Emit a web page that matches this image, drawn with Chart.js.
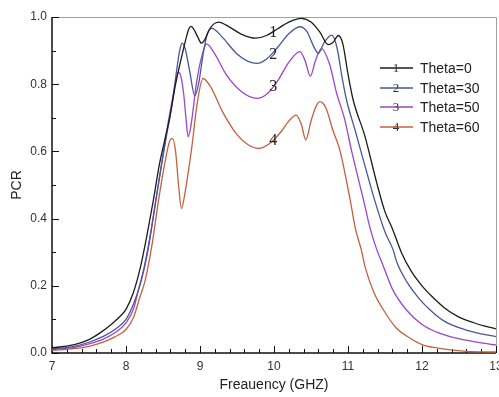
<!DOCTYPE html>
<html>
<head>
<meta charset="utf-8">
<script src="https://cdn.jsdelivr.net/npm/chart.js@4.4.1/dist/chart.umd.min.js"></script>
<style>
html, body { margin: 0; padding: 0; background: #fff; overflow: hidden; }
#wrap { width: 499px; height: 397px; position: relative; }
</style>
</head>
<body>
<div id="wrap"><canvas id="chart"></canvas></div>
<script>
// series names and their curve numbers
const seriesNames = ['Theta=0', 'Theta=30', 'Theta=50', 'Theta=60'];
const seriesMarks = ['1', '2', '3', '4'];

// Theta=0
const freq0 = [7.0, 7.3, 7.5, 7.65, 7.8, 7.9, 8.0, 8.1, 8.2, 8.3, 8.37, 8.45, 8.52, 8.59, 8.67, 8.75, 8.81, 8.85, 8.88, 8.92, 8.97, 9.02, 9.07, 9.12, 9.18, 9.25, 9.4, 9.55, 9.75, 9.9, 10.05, 10.2, 10.37, 10.5, 10.62, 10.73, 10.8, 10.87, 10.93, 11.0, 11.07, 11.23, 11.39, 11.5, 11.6, 11.72, 11.85, 12.0, 12.15, 12.3, 12.5, 12.7, 12.85, 13.0];
const pcr0 = [0.015, 0.025, 0.04, 0.06, 0.085, 0.105, 0.13, 0.18, 0.26, 0.37, 0.455, 0.56, 0.63, 0.70, 0.80, 0.88, 0.935, 0.965, 0.972, 0.962, 0.94, 0.922, 0.935, 0.96, 0.978, 0.985, 0.97, 0.95, 0.937, 0.945, 0.965, 0.985, 0.996, 0.985, 0.955, 0.918, 0.925, 0.945, 0.92, 0.83, 0.753, 0.644, 0.505, 0.42, 0.37, 0.30, 0.245, 0.20, 0.165, 0.135, 0.107, 0.09, 0.08, 0.072];

// Theta=30
const freq30 = [7.0, 7.3, 7.5, 7.7, 7.85, 8.0, 8.1, 8.2, 8.3, 8.4, 8.48, 8.55, 8.63, 8.69, 8.73, 8.76, 8.8, 8.86, 8.93, 8.98, 9.05, 9.1, 9.16, 9.3, 9.5, 9.65, 9.77, 9.9, 10.05, 10.2, 10.35, 10.45, 10.52, 10.6, 10.68, 10.78, 10.85, 10.92, 10.98, 11.1, 11.2, 11.36, 11.5, 11.61, 11.66, 11.8, 11.95, 12.11, 12.3, 12.6, 12.8, 13.0];
const pcr30 = [0.012, 0.02, 0.032, 0.05, 0.07, 0.10, 0.145, 0.21, 0.31, 0.45, 0.56, 0.65, 0.75, 0.85, 0.905, 0.922, 0.905, 0.84, 0.765, 0.80, 0.90, 0.95, 0.966, 0.94, 0.89, 0.868, 0.862, 0.875, 0.91, 0.95, 0.971, 0.955, 0.92, 0.892, 0.925, 0.946, 0.91, 0.82, 0.753, 0.66, 0.58, 0.455, 0.36, 0.307, 0.27, 0.21, 0.165, 0.128, 0.095, 0.068, 0.057, 0.049];

// Theta=50
const freq50 = [7.0, 7.3, 7.5, 7.7, 7.85, 8.0, 8.1, 8.17, 8.25, 8.35, 8.45, 8.55, 8.63, 8.68, 8.71, 8.74, 8.78, 8.81, 8.84, 8.88, 8.95, 9.02, 9.09, 9.2, 9.35, 9.55, 9.77, 9.9, 10.05, 10.2, 10.35, 10.42, 10.49, 10.56, 10.64, 10.75, 10.85, 10.95, 11.05, 11.21, 11.3, 11.39, 11.48, 11.6, 11.79, 12.0, 12.2, 12.38, 12.6, 12.8, 13.0];
const pcr50 = [0.01, 0.017, 0.027, 0.042, 0.06, 0.09, 0.13, 0.19, 0.26, 0.38, 0.52, 0.66, 0.76, 0.82, 0.835, 0.825, 0.77, 0.70, 0.644, 0.68, 0.80, 0.88, 0.92, 0.89, 0.83, 0.78, 0.758, 0.77, 0.81, 0.865, 0.897, 0.87, 0.824, 0.87, 0.906, 0.86, 0.77, 0.70, 0.60, 0.455, 0.37, 0.307, 0.257, 0.19, 0.128, 0.085, 0.062, 0.049, 0.038, 0.03, 0.024];

// Theta=60
const freq60 = [7.0, 7.3, 7.5, 7.7, 7.85, 8.0, 8.1, 8.19, 8.26, 8.35, 8.44, 8.52, 8.57, 8.6, 8.63, 8.67, 8.71, 8.75, 8.8, 8.89, 8.96, 9.04, 9.15, 9.3, 9.5, 9.65, 9.79, 9.95, 10.1, 10.2, 10.3, 10.37, 10.43, 10.5, 10.56, 10.62, 10.7, 10.8, 10.89, 11.03, 11.1, 11.18, 11.23, 11.35, 11.48, 11.65, 11.84, 12.0, 12.2, 12.38, 12.6, 13.0];
const pcr60 = [0.008, 0.013, 0.02, 0.033, 0.048, 0.07, 0.105, 0.168, 0.217, 0.32, 0.455, 0.56, 0.615, 0.635, 0.638, 0.60, 0.50, 0.43, 0.48, 0.614, 0.74, 0.817, 0.79, 0.72, 0.65, 0.62, 0.609, 0.625, 0.66, 0.69, 0.708, 0.68, 0.634, 0.69, 0.73, 0.748, 0.73, 0.66, 0.604, 0.455, 0.37, 0.307, 0.257, 0.18, 0.128, 0.075, 0.044, 0.025, 0.015, 0.009, 0.005, 0.003];

// where the curve numbers sit (frequency, PCR)
const markFreq = [9.99, 9.99, 9.99, 9.99];
const markPcr = [0.952, 0.887, 0.792, 0.631];

const colors = ['#1c1c1c', '#47579a', '#9b45cf', '#c4603f'];
const freqs = [freq0, freq30, freq50, freq60];
const pcrs = [pcr0, pcr30, pcr50, pcr60];

const datasets = seriesNames.map((name, k) => ({
  label: name,
  data: freqs[k].map((f, i) => ({ x: f, y: pcrs[k][i] })),
  borderColor: colors[k],
  borderWidth: 1.3,
  pointRadius: 0,
  fill: false,
  cubicInterpolationMode: 'monotone'
}));

// frame, inward ticks, curve numbers and legend
const decor = {
  id: 'decor',
  beforeDatasetsDraw(chart) {
    const { ctx, chartArea: a, scales: { x, y } } = chart;
    ctx.save();
    ctx.lineWidth = 1;
    ctx.strokeStyle = '#a0a0a0';
    ctx.beginPath();
    ctx.moveTo(a.left, a.top + 0.5);
    ctx.lineTo(a.right + 0.5, a.top + 0.5);
    ctx.lineTo(a.right + 0.5, a.bottom);
    ctx.stroke();

    ctx.strokeStyle = '#111';
    ctx.lineWidth = 1.5;
    ctx.beginPath();
    ctx.moveTo(a.left, a.top);
    ctx.lineTo(a.left, a.bottom);
    ctx.lineTo(a.right, a.bottom);
    ctx.stroke();

    ctx.lineWidth = 1;
    ctx.beginPath();
    for (let i = 0; i <= 10; i++) {
      const py = Math.round(y.getPixelForValue(i / 10)) + 0.5;
      const len = i % 2 === 0 ? 7 : 4;
      ctx.moveTo(a.left, py);
      ctx.lineTo(a.left + len, py);
    }
    for (let i = 0; i <= 30; i++) {
      const px = Math.round(x.getPixelForValue(7 + i / 5)) + 0.5;
      const len = i % 5 === 0 ? 7 : 4;
      ctx.moveTo(px, a.bottom);
      ctx.lineTo(px, a.bottom - len);
    }
    ctx.stroke();
    ctx.restore();
  },
  afterDatasetsDraw(chart) {
    const { ctx, chartArea: a, scales: { x, y } } = chart;
    ctx.save();
    ctx.textAlign = 'center';
    ctx.textBaseline = 'middle';
    ctx.font = '16px "Liberation Serif", serif';
    ctx.fillStyle = '#222';
    seriesMarks.forEach((m, k) => {
      ctx.fillText(m, x.getPixelForValue(markFreq[k]), y.getPixelForValue(markPcr[k]));
    });

    // legend
    const lx = a.left + 328;
    const rows = [68, 88, 107, 127];
    seriesNames.forEach((name, k) => {
      const ly = rows[k];
      ctx.strokeStyle = colors[k];
      ctx.lineWidth = 1.3;
      ctx.beginPath();
      ctx.moveTo(lx, ly);
      ctx.lineTo(lx + 33, ly);
      ctx.stroke();
      ctx.font = '13px "Liberation Serif", serif';
      ctx.fillStyle = '#333';
      ctx.textAlign = 'center';
      ctx.fillText(seriesMarks[k], lx + 16, ly + 1);
      ctx.font = '14px "Liberation Sans", Arial, sans-serif';
      ctx.fillStyle = '#222';
      ctx.textAlign = 'left';
      ctx.fillText(name, lx + 40, ly + 1);
    });
    ctx.restore();
  }
};

new Chart(document.getElementById('chart'), {
  type: 'line',
  data: { datasets: datasets },
  options: {
    responsive: true,
    maintainAspectRatio: false,
    animation: false,
    layout: { padding: { top: 17, right: 3, left: 0, bottom: 0 } },
    plugins: {
      legend: { display: false },
      tooltip: { enabled: false }
    },
    scales: {
      x: {
        type: 'linear',
        min: 7,
        max: 13,
        grid: { display: false, drawTicks: false },
        border: { display: false },
        ticks: {
          stepSize: 1,
          padding: 6,
          color: '#333',
          font: { family: '"Liberation Sans", Arial, sans-serif', size: 12 }
        },
        title: {
          display: true,
          text: 'Freauency (GHZ)',
          color: '#222',
          padding: { top: 0, bottom: 3 },
          font: { family: '"Liberation Sans", Arial, sans-serif', size: 14 }
        },
        afterFit(s) {
          s.height = 44;
          s.paddingLeft = 0;
          s.paddingRight = 0;
        }
      },
      y: {
        min: 0,
        max: 1,
        grid: { display: false, drawTicks: false },
        border: { display: false },
        ticks: {
          stepSize: 0.2,
          padding: 5,
          color: '#333',
          font: { family: '"Liberation Sans", Arial, sans-serif', size: 12 },
          callback: v => v.toFixed(1)
        },
        title: {
          display: true,
          text: 'PCR',
          color: '#222',
          padding: { top: 9, bottom: 0 },
          font: { family: '"Liberation Sans", Arial, sans-serif', size: 14 }
        },
        afterFit(s) {
          s.width = 52;
          s.paddingTop = 0;
          s.paddingBottom = 0;
        }
      }
    }
  },
  plugins: [decor]
});
</script>
</body>
</html>
